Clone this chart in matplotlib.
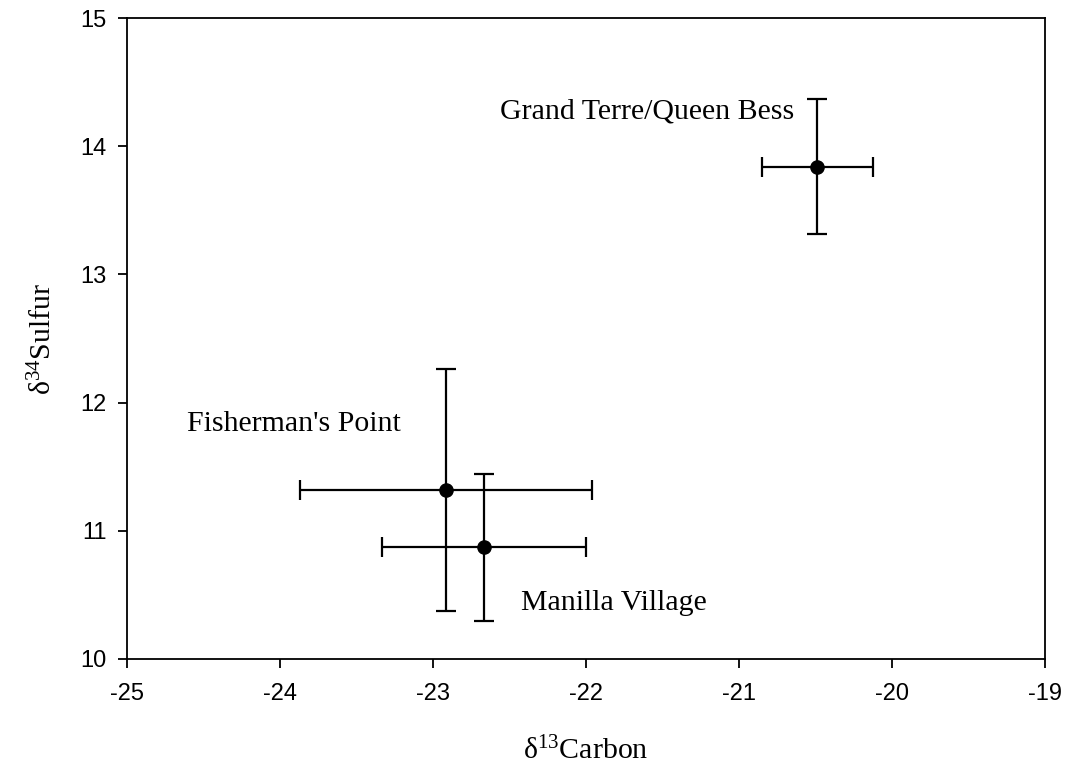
import matplotlib
matplotlib.use("Agg")
import matplotlib.pyplot as plt

plt.rcParams["mathtext.fontset"] = "custom"
plt.rcParams["mathtext.rm"] = "Liberation Serif"
plt.rcParams["mathtext.it"] = "Liberation Serif:italic"
plt.rcParams["axes.unicode_minus"] = False

sites = ["Grand Terre/Queen Bess", "Fisherman's Point", "Manilla Village"]
carbon = [-20.49, -22.915, -22.667]
carbon_err = [0.363, 0.953, 0.665]
sulfur = [13.84, 11.318, 10.871]
sulfur_err = [0.527, 0.944, 0.572]

# label anchor positions (data units), centered text
label_x = [-21.60, -23.91, -21.82]
label_y = [14.27, 11.83, 10.44]

fig = plt.figure(figsize=(10.69, 7.74), dpi=100)
ax = fig.add_axes([0.1188, 0.1486, 0.8588, 0.8281])

ax.errorbar(carbon, sulfur, xerr=carbon_err, yerr=sulfur_err, fmt="o",
            color="black", markersize=9.5, elinewidth=1.6, capsize=7,
            capthick=1.6, ecolor="black")

for name, lx, ly in zip(sites, label_x, label_y):
    ax.text(lx, ly, name, ha="center", va="center",
            family="Liberation Serif", fontsize=21.5)

ax.set_xlim(-25, -19)
ax.set_ylim(10, 15)
ax.set_xticks(range(-25, -18))
ax.set_yticks(range(10, 16))

for s in ax.spines.values():
    s.set_linewidth(1.3)
ax.tick_params(direction="out", length=6.5, width=1.3, labelsize=17)
ax.tick_params(axis="x", pad=11)
ax.tick_params(axis="y", pad=8)
for lab in ax.get_xticklabels() + ax.get_yticklabels():
    lab.set_family("Liberation Sans")

ax.set_xlabel("δ$^{13}$Carbon", family="Liberation Serif", fontsize=21.5, labelpad=23)
ax.set_ylabel("δ$^{34}$Sulfur", family="Liberation Serif", fontsize=21.5, labelpad=17)

fig.savefig("out.png", dpi=100)
